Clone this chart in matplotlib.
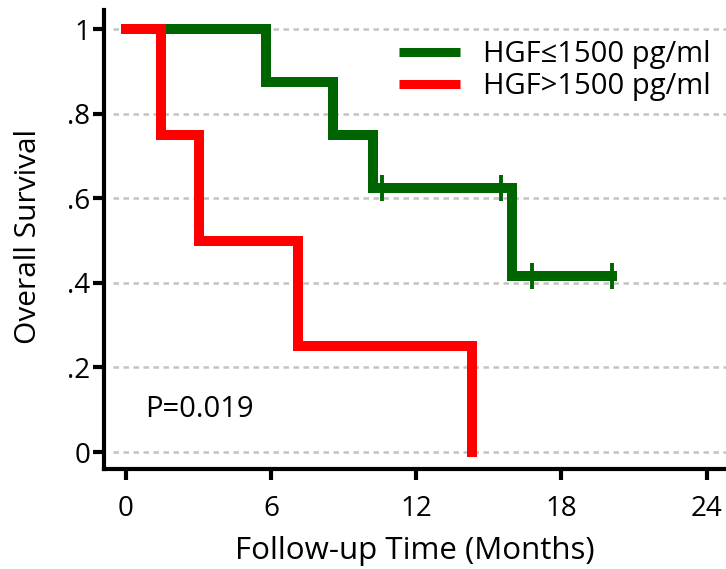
import matplotlib
matplotlib.use('Agg')
import matplotlib.pyplot as plt

# Kaplan-Meier estimates by serum HGF group (months, survival probability)
low_times = [0, 5.8, 8.55, 10.2, 15.95, 20.1]
low_surv = [1.0, 0.875, 0.75, 0.625, 0.4167, 0.4167]
low_censor_times = [10.6, 15.5, 16.8, 20.1]
low_censor_surv = [0.625, 0.625, 0.4167, 0.4167]

high_times = [0, 1.45, 3.0, 7.1, 14.3]
high_surv = [1.0, 0.75, 0.5, 0.25, 0.0]

group_labels = ['HGF\u22641500 pg/ml', 'HGF>1500 pg/ml']
x_ticks = [0, 6, 12, 18, 24]
y_ticks = [0, 0.2, 0.4, 0.6, 0.8, 1.0]
y_tick_labels = ['0', '.2', '.4', '.6', '.8', '1']
p_text = 'P=0.019'

FS = 20
plt.rcParams['font.family'] = ['Open Sans', 'DejaVu Sans']
plt.rcParams['font.size'] = FS

fig = plt.figure(figsize=(7.26, 5.69), dpi=100)
W, H = 726, 569
ax = fig.add_axes([104 / W, (H - 469) / H, (W - 104) / W, (469 - 10) / H])

green = '#006400'
red = '#ff0000'
lw = 7.2

xmin, xmax = -0.91, 24.8
ax.set_xlim(xmin, xmax)
ax.set_ylim(-0.04, 1.045)

# dashed reference lines
ax.hlines(y_ticks, -0.55, xmax, colors='#c3c3c3', linewidth=1.8,
          linestyles=(0, (2.2, 1.8)), zorder=1)

ln_low, = ax.step(low_times, low_surv, where='post', color=green, lw=lw,
                  solid_capstyle='projecting', solid_joinstyle='miter', zorder=2)
ax.plot(low_censor_times, low_censor_surv, linestyle='none', marker='|',
        markersize=19, markeredgewidth=2.8, color=green, zorder=3)
ln_high, = ax.step(high_times, high_surv, where='post', color=red, lw=lw,
                   solid_capstyle='projecting', solid_joinstyle='miter', zorder=4)

for side in ['top', 'right']:
    ax.spines[side].set_visible(False)
for side in ['left', 'bottom']:
    ax.spines[side].set_linewidth(3)
    ax.spines[side].set_color('black')

ax.set_xticks(x_ticks)
ax.set_yticks(y_ticks)
ax.set_yticklabels(y_tick_labels)
ax.tick_params(axis='both', direction='out', length=8, width=3, colors='black',
               labelsize=FS)
ax.tick_params(axis='y', pad=2)
ax.tick_params(axis='x', pad=11)

ax.set_xlabel('Follow-up Time (Months)', fontsize=22.5)
ax.set_ylabel('Overall Survival', fontsize=21.5)
ax.xaxis.set_label_coords(0.5, -(551 - 469) / 459)
ax.xaxis.label.set_va('center')
ax.yaxis.set_label_coords((29 - 104) / 622, (469 - 236) / 459)
ax.yaxis.label.set_va('center')

ax.text(0.8, 0.1, p_text, fontsize=21, va='center', ha='left')

leg = ax.legend([ln_low, ln_high], group_labels, loc='upper left',
                bbox_to_anchor=(0.474, 0.935), frameon=False, borderpad=0,
                handlelength=2.1, handletextpad=0.8, labelspacing=0.12,
                fontsize=21, borderaxespad=0)
for h in leg.get_lines():
    h.set_linewidth(6.5)
    h.set_solid_capstyle('butt')

fig.savefig('out.png', dpi=100)
